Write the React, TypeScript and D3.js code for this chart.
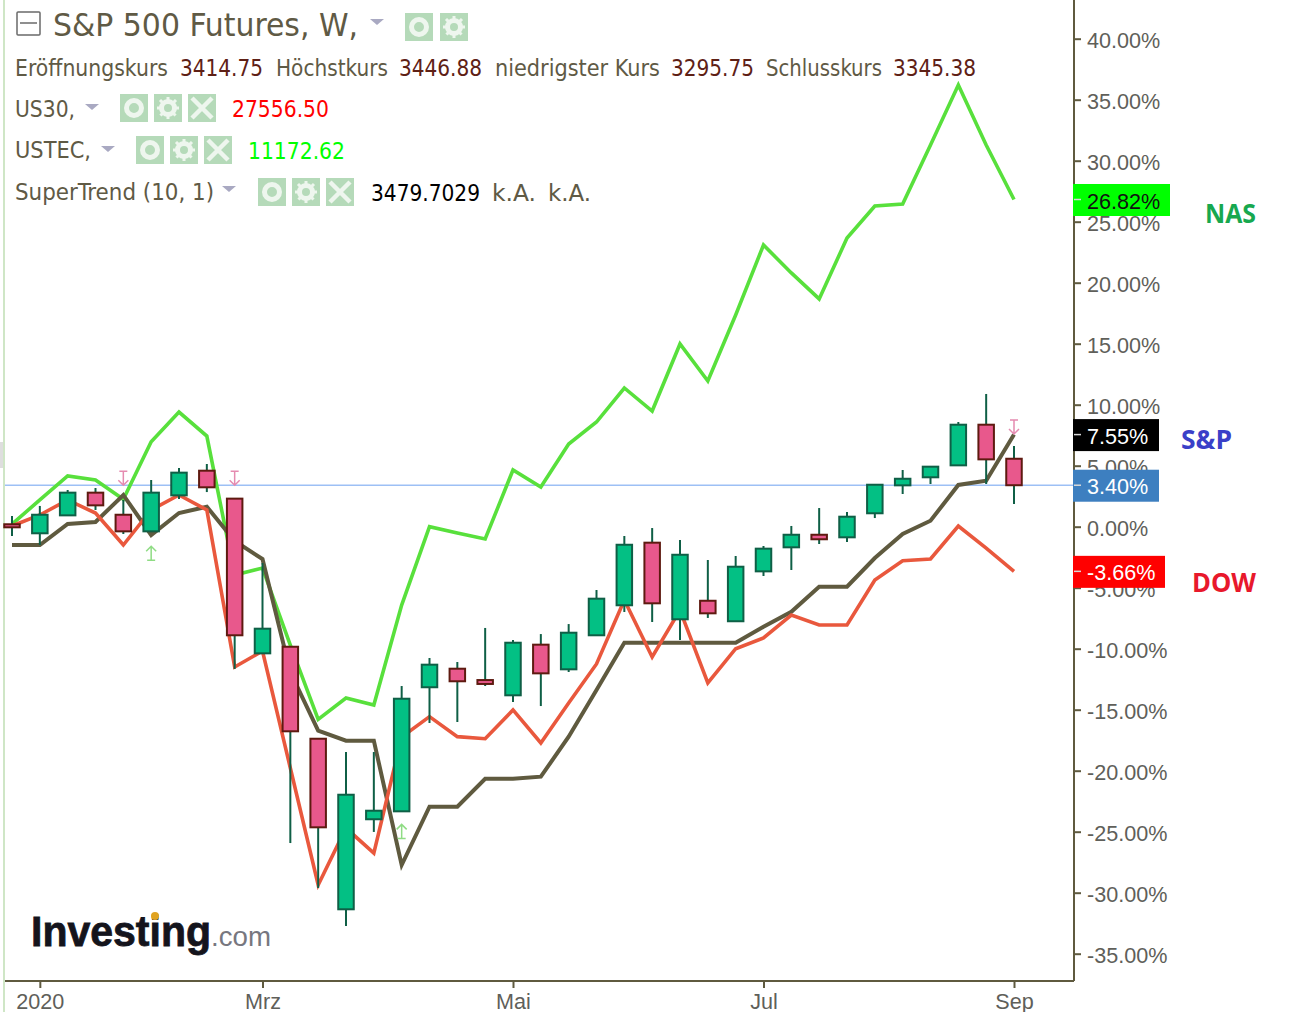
import React, { useRef, useEffect } from 'react';
import * as d3 from 'd3';

const WIDTH = 1301;
const HEIGHT = 1012;

// weekly candles, in percent from the scale's base
const opens = [0.2, -0.54, 0.93, 2.79, 0.98, -0.38, 2.57, 4.59, 2.3, -10.38, -9.84, -17.38, -31.36, -23.98, -23.33, -13.16, -11.64, -12.57, -13.82, -9.67, -11.69, -8.9, -6.44, -1.31, -7.59, -6.07, -7.75, -3.66, -1.69, -0.66, -0.87, 1.1, 3.39, 4.05, 5.03, 8.36, 5.57];
const highs = [0.88, 1.7, 3.01, 3.17, 2.19, 3.83, 4.81, 5.14, 2.3, -2.98, -9.84, -17.38, -18.47, -18.47, -13.06, -10.76, -11.09, -8.3, -9.29, -8.8, -7.98, -5.19, -0.76, -0.11, -1.09, -2.73, -2.4, -1.58, 0.06, 1.53, 1.2, 3.44, 4.65, 4.92, 8.58, 10.88, 6.61];
const lows = [-0.76, -1.5, 0.93, 1.37, -0.6, -0.38, 2.27, 2.84, -11.66, -10.38, -25.93, -29.61, -32.73, -25.02, -23.33, -16.09, -16.01, -13.06, -14.37, -14.7, -11.91, -8.9, -6.99, -7.81, -9.29, -7.48, -7.75, -4.04, -3.55, -1.42, -1.25, 0.71, 2.68, 3.5, 5.03, 3.5, 1.86];
const closes = [-0.05, 0.98, 2.79, 1.75, -0.38, 2.79, 4.43, 3.23, -8.9, -8.36, -16.77, -24.64, -21.97, -23.28, -14.1, -11.31, -12.67, -12.89, -9.51, -12.02, -8.69, -5.9, -1.48, -6.28, -2.3, -7.1, -3.28, -1.8, -0.66, -1.03, 0.82, 3.44, 3.93, 4.92, 8.36, 5.52, 3.4];

const spLine = [-1.5, -1.5, 0.22, 0.39, 2.6, -0.68, 1.12, 1.64, -1.17, -2.65, -11.91, -16.72, -17.54, -17.54, -27.73, -22.95, -22.95, -20.66, -20.66, -20.49, -17.21, -13.39, -9.51, -9.51, -9.51, -9.51, -9.51, -8.2, -6.97, -4.92, -4.92, -2.57, -0.6, 0.49, 3.42, 3.77, 7.55];
const dowLine = [0.06, 0.96, 2.19, 1.12, -1.5, 1.37, 2.6, 1.37, -11.5, -10.19, -19.78, -29.37, -24.7, -26.75, -17.24, -15.57, -17.21, -17.38, -15.02, -17.73, -14.45, -11.25, -6.01, -10.68, -6.83, -12.81, -10.0, -9.12, -7.24, -8.06, -8.06, -4.37, -2.79, -2.65, 0.06, -1.75, -3.66];
const nasLine = [0.22, 2.19, 4.16, 3.83, 2.25, 6.97, 9.4, 7.43, -3.96, -3.39, -9.7, -15.79, -14.04, -14.62, -6.42, 0.0, -0.52, -1.01, 4.65, 3.25, 6.78, 8.58, 11.37, 9.48, 14.98, 11.94, 17.35, 23.09, 20.8, 18.67, 23.66, 26.29, 26.45, 31.29, 36.2, 31.29, 26.82];

const yTicks = [40, 35, 30, 25, 20, 15, 10, 5, 0, -5, -10, -15, -20, -25, -30, -35];
const xTickWeeks = [1, 9, 18, 27, 36];
const xTickLabels = ['2020', 'Mrz', 'Mai', 'Jul', 'Sep'];

// SuperTrend signals: week and percent level of the arrow tip
const sellSignals = [[4, 3.4], [8, 3.4], [36, 7.6]];
const buySignals = [[5, -1.6], [14, -24.4]];

const basePct = 3.4;

const lastValues = [
  { value: 26.82, label: '26.82%', bg: '#00ff00', fg: '#111', w: 97 },
  { value: 7.55, label: '7.55%', bg: '#000000', fg: '#fff', w: 86 },
  { value: 3.4, label: '3.40%', bg: '#3d7fc0', fg: '#fff', w: 86 },
  { value: -3.66, label: '-3.66%', bg: '#ff0000', fg: '#fff', w: 92 },
];

const TEXT = '#5f5a45';
const AXIS = '#5f5a3f';
const UI_FONT = '"DejaVu Sans Condensed", "DejaVu Sans", sans-serif';
const AXIS_FONT = '"Liberation Sans", Arial, sans-serif';

const Caret = ({ x, y }: { x: number; y: number }) => (
  <path d={`M${x},${y} h14 l-7,6 z`} fill="#a9a9c2" />
);

const Icon = ({ x, y, kind }: { x: number; y: number; kind: 'eye' | 'gear' | 'x' }) => (
  <g transform={`translate(${x},${y})`}>
    <rect width={28} height={28} fill="#b5dab9" />
    {kind === 'eye' && <circle cx={14} cy={14} r={7.5} fill="none" stroke="#eef6ee" strokeWidth={5} />}
    {kind === 'gear' && (
      <g>
        <circle cx={14} cy={14} r={6.5} fill="none" stroke="#eef6ee" strokeWidth={5} />
        <path d="M14,3 V25 M3,14 H25 M6,6 L22,22 M22,6 L6,22" stroke="#eef6ee" strokeWidth={3} strokeDasharray="4 14" />
      </g>
    )}
    {kind === 'x' && <path d="M4,4 L24,24 M24,4 L4,24" stroke="#eef6ee" strokeWidth={4.5} />}
  </g>
);

const Label = ({ x, y, w, fill = TEXT, size = 23, children }: any) => (
  <text x={x} y={y} fill={fill} fontSize={size} fontFamily={UI_FONT} textLength={w} lengthAdjust="spacingAndGlyphs">
    {children}
  </text>
);

const App = () => {
  const ref = useRef<SVGGElement>(null);

  useEffect(() => {
    const root = d3.select(ref.current);
    root.selectAll('*').remove();

    const x = d3.scaleLinear().domain([0, 36]).range([12, 1014]);
    const y = d3.scaleLinear().domain([0, 40]).range([526.7, 38.7]);
    const weeks = d3.range(opens.length);

    // base line of the percent scale
    root.append('line')
      .attr('x1', 5).attr('x2', 1074)
      .attr('y1', y(basePct)).attr('y2', y(basePct))
      .attr('stroke', '#9dc0f5').attr('stroke-width', 1.5);

    // comparison lines
    const line = d3.line<number>().x((d, i) => x(i)).y(d => y(d));
    const series: [number[], string, number][] = [
      [nasLine, '#58e03c', 3.6],
      [spLine, '#5f5a3f', 4],
      [dowLine, '#e9583d', 3.6],
    ];
    series.forEach(([values, color, width]) => {
      root.append('path')
        .datum(values)
        .attr('fill', 'none')
        .attr('stroke', color)
        .attr('stroke-width', width)
        .attr('stroke-linejoin', 'miter')
        .attr('d', line);
    });

    // candles
    const candles = root.append('g');
    candles.selectAll('line')
      .data(weeks)
      .join('line')
      .attr('x1', d => x(d)).attr('x2', d => x(d))
      .attr('y1', d => y(highs[d])).attr('y2', d => y(lows[d]))
      .attr('stroke', '#0f5f46').attr('stroke-width', 2);
    candles.selectAll('rect')
      .data(weeks)
      .join('rect')
      .attr('x', d => x(d) - 7.75)
      .attr('width', 15.5)
      .attr('y', d => y(Math.max(opens[d], closes[d])))
      .attr('height', d => Math.abs(y(opens[d]) - y(closes[d])))
      .attr('fill', d => (closes[d] >= opens[d] ? '#03c084' : '#e8588c'))
      .attr('stroke', d => (closes[d] >= opens[d] ? '#0f5f46' : '#5e1a10'))
      .attr('stroke-width', 2);

    // SuperTrend arrows
    const arrows = root.append('g').attr('fill', 'none').attr('stroke-width', 1.5);
    sellSignals.forEach(([w, v]) => {
      const px = x(w);
      const py = y(v);
      arrows.append('path')
        .attr('stroke', '#e58bb0')
        .attr('d', `M${px - 4},${py - 14} h8 M${px},${py - 14} V${py} M${px - 5},${py - 5} L${px},${py} L${px + 5},${py - 5}`);
    });
    buySignals.forEach(([w, v]) => {
      const px = x(w);
      const py = y(v);
      arrows.append('path')
        .attr('stroke', '#8fdc84')
        .attr('d', `M${px - 4},${py + 14} h8 M${px},${py + 14} V${py} M${px - 5},${py + 5} L${px},${py} L${px + 5},${py + 5}`);
    });

    // axes
    const yAxis = root.append('g')
      .attr('transform', 'translate(1074,0)')
      .call(d3.axisRight(y).tickValues(yTicks).tickSize(7).tickPadding(6).tickFormat(d => `${(+d).toFixed(2)}%`));
    yAxis.select('.domain').remove();
    yAxis.selectAll('line').attr('stroke', AXIS).attr('stroke-width', 2);
    yAxis.selectAll('text')
      .attr('fill', '#5f5f5a').attr('font-size', 21.6).attr('font-family', AXIS_FONT).attr('dy', '0.39em');

    const xAxis = root.append('g')
      .attr('transform', 'translate(0,981)')
      .call(d3.axisBottom(x).tickValues(xTickWeeks).tickSize(7).tickPadding(6).tickFormat((d, i) => xTickLabels[i]));
    xAxis.select('.domain').remove();
    xAxis.selectAll('line').attr('stroke', AXIS).attr('stroke-width', 2);
    xAxis.selectAll('text')
      .attr('fill', '#5f5f5a').attr('font-size', 21.6).attr('font-family', AXIS_FONT);

    root.append('line')
      .attr('x1', 1074).attr('x2', 1074).attr('y1', 0).attr('y2', 981)
      .attr('stroke', AXIS).attr('stroke-width', 2);
    root.append('line')
      .attr('x1', 5).attr('x2', 1074).attr('y1', 981).attr('y2', 981)
      .attr('stroke', AXIS).attr('stroke-width', 2);

    // last value tags
    const tags = root.selectAll('g.tag')
      .data(lastValues)
      .join('g')
      .attr('class', 'tag')
      .attr('transform', d => `translate(1073,${y(d.value)})`);
    tags.append('rect')
      .attr('y', -15.5).attr('height', 32)
      .attr('width', d => d.w)
      .attr('fill', d => d.bg);
    tags.append('line')
      .attr('x1', 1).attr('x2', 8).attr('stroke', '#d8d8d8').attr('stroke-width', 1.5);
    tags.append('text')
      .attr('x', 14).attr('dy', '0.42em')
      .attr('fill', d => d.fg)
      .attr('font-size', 21.6)
      .attr('font-family', AXIS_FONT)
      .text(d => d.label);
  }, []);

  return (
    <svg width={WIDTH} height={HEIGHT} style={{ position: 'absolute', left: 0, top: 0, display: 'block' }}>
      <rect width={WIDTH} height={HEIGHT} fill="#fff" />
      <line x1={4} x2={4} y1={0} y2={HEIGHT} stroke="#cfe6c6" strokeWidth={2} />
      <rect x={0} y={442} width={3} height={26} fill="#dedede" />

      {/* watermark sits under the marks */}
      <g fontFamily={AXIS_FONT}>
        <text x={31} y={946} fontSize={42} fontWeight="bold" fill="#14141c" stroke="#14141c" strokeWidth={0.8} textLength={180} lengthAdjust="spacingAndGlyphs">Investing</text>
        <text x={211} y={946} fontSize={28} fill="#77777f" textLength={60} lengthAdjust="spacingAndGlyphs">.com</text>
        <circle cx={155} cy={916} r={4} fill="#e0a320" />
      </g>

      <g ref={ref} />

      {/* legend */}
      <rect x={17} y={12} width={23} height={23} fill="none" stroke="#6a6a6a" strokeWidth={1.5} rx={1} />
      <line x1={20} x2={37} y1={23} y2={23} stroke="#6a6a6a" strokeWidth={1.5} />
      <Label x={53} y={36} w={305} size={32}>S&amp;P 500 Futures, W,</Label>
      <Caret x={370} y={19} />
      <Icon x={405} y={13} kind="eye" />
      <Icon x={440} y={13} kind="gear" />

      <Label x={15} y={76} w={153}>Eröffnungskurs</Label>
      <Label x={180} y={76} w={83} fill="#5e2015">3414.75</Label>
      <Label x={276} y={76} w={112}>Höchstkurs</Label>
      <Label x={399} y={76} w={83} fill="#5e2015">3446.88</Label>
      <Label x={495} y={76} w={165}>niedrigster Kurs</Label>
      <Label x={671} y={76} w={83} fill="#5e2015">3295.75</Label>
      <Label x={766} y={76} w={116}>Schlusskurs</Label>
      <Label x={893} y={76} w={83} fill="#5e2015">3345.38</Label>

      <Label x={15} y={117} w={60}>US30,</Label>
      <Caret x={85} y={104} />
      <Icon x={120} y={94} kind="eye" />
      <Icon x={154} y={94} kind="gear" />
      <Icon x={188} y={94} kind="x" />
      <Label x={232} y={117} w={97} fill="#ff0000">27556.50</Label>

      <Label x={15} y={158} w={76}>USTEC,</Label>
      <Caret x={101} y={146} />
      <Icon x={136} y={136} kind="eye" />
      <Icon x={170} y={136} kind="gear" />
      <Icon x={204} y={136} kind="x" />
      <Label x={248} y={159} w={97} fill="#00ff00">11172.62</Label>

      <Label x={15} y={200} w={199}>SuperTrend (10, 1)</Label>
      <Caret x={222} y={186} />
      <Icon x={258} y={178} kind="eye" />
      <Icon x={292} y={178} kind="gear" />
      <Icon x={326} y={178} kind="x" />
      <Label x={371} y={201} w={109} fill="#000">3479.7029</Label>
      <Label x={492} y={201} w={44}>k.A.</Label>
      <Label x={548} y={201} w={43}>k.A.</Label>

      {/* hand annotations */}
      <g fontFamily='"Open Sans", "Noto Sans", sans-serif' fontWeight="bold" fontSize={26}>
        <text x={1205} y={223} fill="#17a84f" textLength={51} lengthAdjust="spacingAndGlyphs">NAS</text>
        <text x={1181} y={449} fill="#3a40c8" textLength={51} lengthAdjust="spacingAndGlyphs">S&amp;P</text>
        <text x={1192} y={592} fill="#e8182c" textLength={64} lengthAdjust="spacingAndGlyphs">DOW</text>
      </g>
    </svg>
  );
};

export default App;
